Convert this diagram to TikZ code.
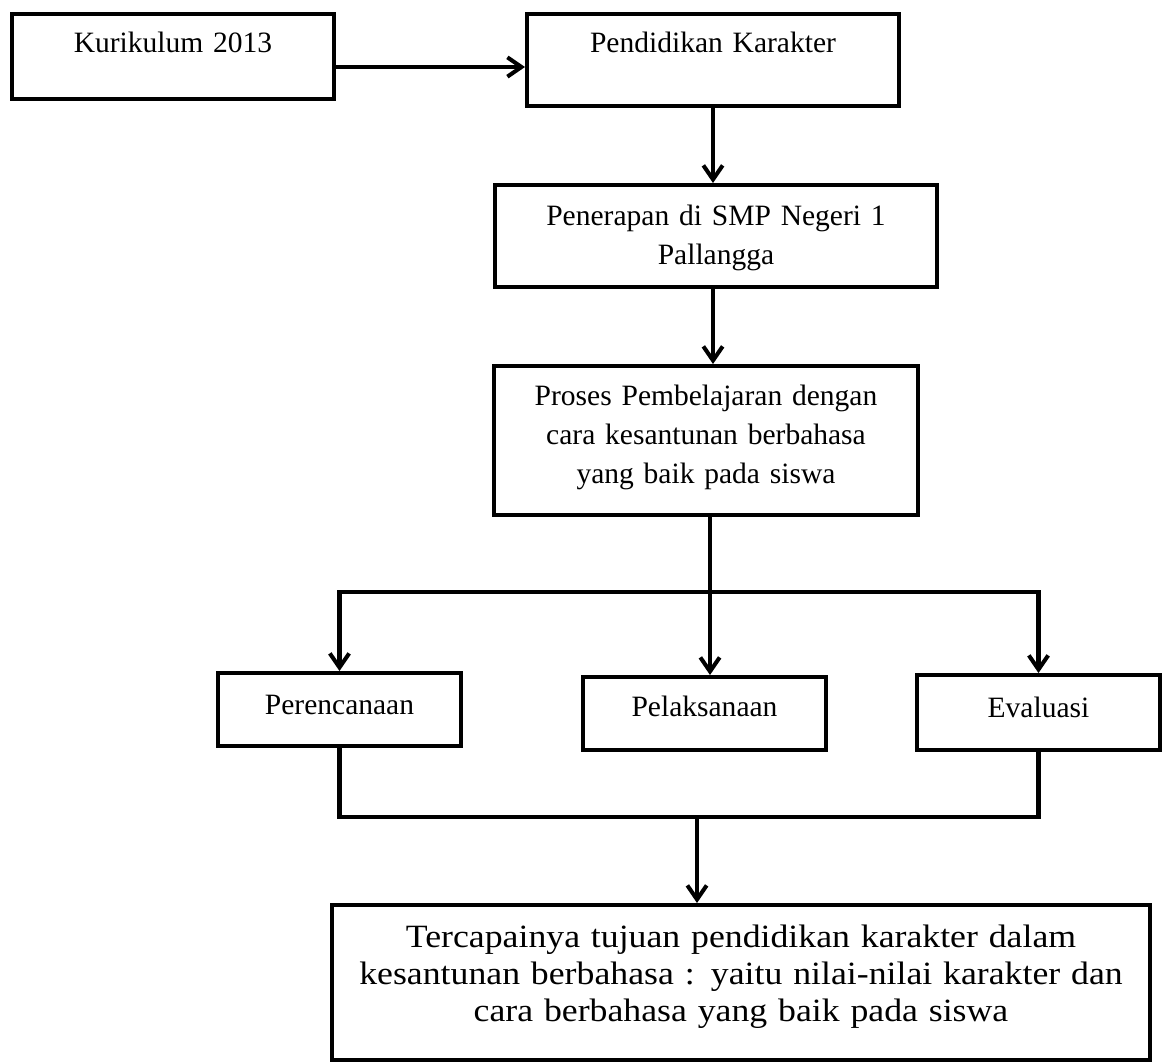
\documentclass[tikz,border=0pt]{standalone}
\usepackage{fontspec}
\setmainfont{Liberation Serif}
\newfontfamily\widefont[FakeStretch=1.1]{Liberation Serif}
\usetikzlibrary{arrows.meta}

\begin{document}
\begin{tikzpicture}[x=0.02cm, y=-0.02cm,
	box/.style={draw, line width=2.3pt, inner sep=0pt, align=center, anchor=north, font=\fontsize{16.8}{22.4}\selectfont},
	link/.style={line width=2.3pt},
	arrow/.style={link, -{Straight Barb[length=8pt,width=11pt]}}]

	\useasboundingbox	(0,0)	rectangle	(1165,1061);

	\node 	(e1)	at	(173,12)	[box, text width=6.44cm, text height=0.76cm, text depth=0.94cm]{Kurikulum 2013};

	\node 	(e2)	at	(713,12)	[box, text width=7.44cm, text height=0.76cm, text depth=1.08cm]{Pendidikan Karakter};

	\node 	(e3)	at	(716,183)	[box, text width=8.84cm, text height=0.80cm, text depth=1.24cm]{Penerapan di SMP Negeri 1\\ Pallangga};

	\node 	(e4)	at	(706,364)	[box, text width=8.48cm, text height=0.78cm, text depth=2.20cm]{Proses Pembelajaran dengan\\ cara kesantunan berbahasa\\ yang baik pada siswa};

	\node 	(e5)	at	(339.5,671)	[box, text width=4.86cm, text height=0.82cm, text depth=0.64cm]{Perencanaan};

	\node 	(e6)	at	(704.5,675)	[box, text width=4.86cm, text height=0.78cm, text depth=0.68cm]{Pelaksanaan};

	\node 	(e7)	at	(1038.5,673)	[box, text width=4.86cm, text height=0.84cm, text depth=0.66cm]{Evaluasi};

	\node 	(e8)	at	(741,903)	[box, text width=16.36cm, text height=0.84cm, text depth=2.26cm, font=\widefont\fontsize{18.5}{21.3}\selectfont]{Tercapainya tujuan pendidikan karakter dalam\\ kesantunan berbahasa : yaitu nilai-nilai karakter dan\\ cara berbahasa yang baik pada siswa};

	\coordinate	(s1)	at	(710,592);
	\coordinate	(s2)	at	(697,817);

	\draw[arrow]	([yshift=-0.21cm]e1.east)	--	([yshift=-0.21cm]e1.east -| e2.west);
	\draw[arrow]	(e2.south)	--	(e2.south |- e3.north);
	\draw[arrow]	(e2.south |- e3.south)	--	(e2.south |- e4.north);

	\draw[link]	(e4.south -| s1)	--	(s1);
	\draw[arrow]	(s1)	-|	(e5.north);
	\draw[arrow]	(s1)	-|	(e7.north);
	\draw[arrow]	(s1)	--	(s1 |- e6.north);

	\draw[link]	(e5.south)	|-	(s2)	-|	(e7.south);
	\draw[arrow]	(s2)	--	(s2 |- e8.north);

\end{tikzpicture}
\end{document}
